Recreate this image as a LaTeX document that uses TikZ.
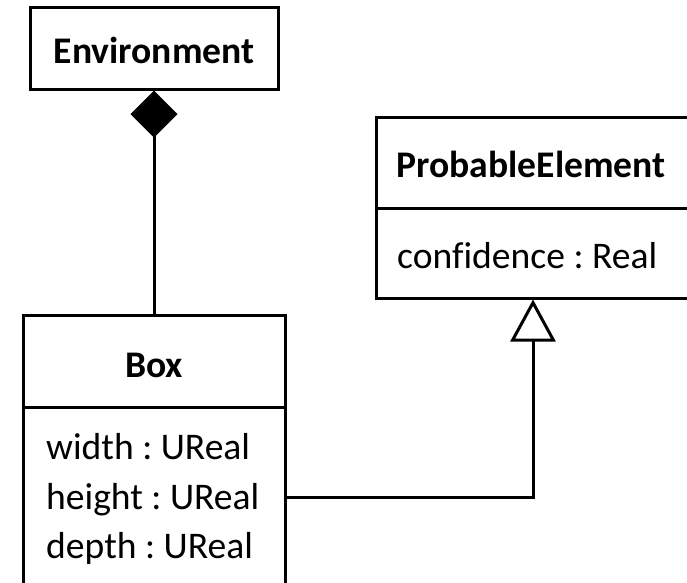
\documentclass[tikz,border=0pt]{standalone}
\usepackage{fontspec}
\setmainfont[Ligatures=NoCommon]{Carlito}
\usetikzlibrary{arrows.meta}
\frenchspacing

\tikzset{
  umlline/.style={line width=3pt, black},
  classpart/.style={draw, umlline, rectangle, inner sep=0pt, fill=white},
  classname/.style={font=\fontsize{37.6}{44}\selectfont\bfseries, inner sep=0pt, anchor=base},
  attrtext/.style={font=\fontsize{37.6}{44}\selectfont, inner sep=0pt, anchor=base west},
  composition/.style={umlline, {Diamond[fill=black, width=47pt, length=47pt]}-},
  generalization/.style={umlline, -{Triangle[open, fill=white, width=45pt, length=42pt]}},
}

\begin{document}
\begin{tikzpicture}[x=1pt, y=-1pt]
  \useasboundingbox (0,0) rectangle (687,582);
  \clip (0,0) rectangle (687,582);
  \fill[white] (0,0) rectangle (687,582);

  % Environment class
  \node[classpart, minimum width=248pt, minimum height=82pt] (env) at (154,48) {};
  \node[classname] (envname) at (154,63) {Environment};

  % Box class: name compartment and attribute compartment
  \node[classpart, minimum width=262pt, minimum height=92pt] (boxtitle) at (154,361) {};
  \node[classpart, minimum width=262pt, minimum height=220pt] (boxattr) at (154,517) {};
  \node[classname] (boxname) at (154,377) {Box};
  \node[attrtext] (boxw) at (46,459) {width : UReal};
  \node[attrtext] (boxh) at (46,509) {height : UReal};
  \node[attrtext] (boxd) at (46,558) {depth : UReal};

  % ProbableElement class
  \node[classpart, minimum width=330pt, minimum height=91pt] (petitle) at (541,162.5) {};
  \node[classpart, minimum width=330pt, minimum height=90pt] (peattr) at (541,253) {};
  \node[classname] (pename) at (531,177) {ProbableElement};
  \node[attrtext] (peconf) at (397,268) {confidence : Real};

  % Composition: Environment owns Box
  \draw[composition] (env.south) -- (boxtitle.north);

  % Generalization: Box specialises ProbableElement
  \coordinate (bend) at (533,497);
  \draw[generalization] (boxattr.east |- bend) -- (bend) -- (bend |- peattr.south);
\end{tikzpicture}
\end{document}
